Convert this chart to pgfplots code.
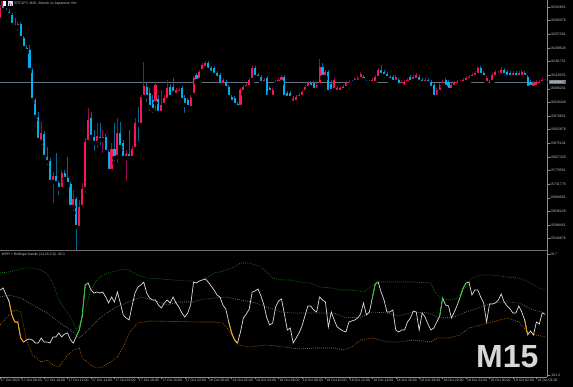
\documentclass[border=0pt]{standalone}
\usepackage{fontspec}
\setmainfont{Liberation Sans}
\usepackage{pgfplots}
\usepackage{pgfplotstable}
\pgfplotsset{compat=1.18}
\definecolor{upbody}{RGB}{255,20,90}
\definecolor{dnbody}{RGB}{0,175,240}
\definecolor{upwick}{RGB}{150,10,85}
\definecolor{dnwick}{RGB}{0,105,145}
\definecolor{axgray}{RGB}{140,140,140}
\definecolor{lblgray}{RGB}{195,195,195}
\definecolor{bandgreen}{RGB}{20,135,20}
\definecolor{bandgray}{RGB}{125,125,125}
\definecolor{bandorange}{RGB}{190,110,0}
\definecolor{wprwhite}{RGB}{220,220,220}
\definecolor{wprgreen}{RGB}{40,200,40}
\definecolor{wprorange}{RGB}{255,160,0}
\definecolor{priceline}{RGB}{100,115,130}
\newcommand\tl{\fontsize{3.5}{4}\selectfont}

\pgfplotstableread{
i O H L C
-7 16307.2 16359.8 16300.2 16349.3
-6 16359.8 16373.8 16335.3 16342.3
-5 16342.3 16349.3 16328.3 16335.3
-4 16335.3 16345.8 16317.8 16324.8
-3 16324.8 16331.8 16282.7 16289.7
-2 16289.7 16314.3 16268.7 16282.7
-1 16282.7 16300.2 16261.7 16293.2
0 16293.2 16300.2 16237.1 16244.2
1 16244.2 16251.2 16202.1 16209.1
2 16209.1 16219.6 16191.6 16198.6
3 16202.1 16219.6 16125.0 16132.0
4 16132.0 16139.0 16016.3 16026.8
5 16026.8 16033.9 15956.7 15967.3
6 15967.3 15984.8 15879.6 15886.6
7 15879.6 15949.7 15862.1 15911.2
8 15907.7 15918.2 15820.0 15827.0
9 15827.0 15862.1 15792.0 15809.5
10 15813.0 15823.5 15732.4 15739.4
11 15739.4 15774.5 15658.8 15760.4
12 15760.4 15841.1 15721.9 15735.9
13 15735.9 15742.9 15686.9 15714.9
14 15714.9 15781.5 15704.4 15771.0
15 15771.0 15781.5 15739.4 15749.9
16 15753.4 15827.0 15725.4 15732.4
17 15732.4 15739.4 15641.3 15651.8
18 15651.8 15711.4 15630.8 15679.9
19 15679.9 15686.9 15501.1 15581.7
20 15578.2 15676.3 15564.2 15651.8
21 15651.8 15735.9 15641.3 15714.9
22 15714.9 15893.6 15693.9 15879.6
23 15879.6 15998.8 15876.1 15956.7
24 15963.7 15984.8 15886.6 15897.2
25 15897.2 15921.7 15841.1 15876.1
26 15876.1 15946.2 15851.6 15900.7
27 15897.2 15946.2 15862.1 15886.6
28 15886.6 15921.7 15834.1 15897.2
29 15897.2 15907.7 15834.1 15844.6
30 15844.6 15851.6 15771.0 15778.0
31 15778.0 15876.1 15767.5 15855.1
32 15855.1 15946.2 15806.0 15823.5
33 15827.0 15963.7 15799.0 15911.2
34 15911.2 15949.7 15851.6 15862.1
35 15876.1 15886.6 15816.5 15823.5
36 15823.5 15851.6 15735.9 15837.6
37 15837.6 15921.7 15816.5 15823.5
38 15823.5 15865.6 15809.5 15855.1
39 15855.1 15963.7 15851.6 15946.2
40 15946.2 16002.3 15876.1 15939.2
41 15939.2 16044.4 15935.7 16037.4
42 16037.4 16160.0 16030.4 16075.9
43 16072.4 16086.4 16012.8 16037.4
44 16051.4 16068.9 15981.3 16002.3
45 16026.8 16044.4 15974.3 15991.8
46 16016.3 16089.9 15981.3 16079.4
47 16030.4 16044.4 15967.3 15981.3
48 15981.3 16061.9 15967.3 16009.3
49 16009.3 16044.4 15998.8 16033.9
50 16026.8 16096.9 16019.8 16068.9
51 16072.4 16082.9 16030.4 16037.4
52 16072.4 16103.9 16044.4 16051.4
53 16044.4 16068.9 16037.4 16061.9
54 16051.4 16068.9 16044.4 16061.9
55 16068.9 16075.9 16019.8 16026.8
56 16033.9 16044.4 15974.3 16009.3
57 16026.8 16033.9 15995.3 16002.3
58 15998.8 16044.4 15991.8 16037.4
59 16044.4 16110.9 16037.4 16103.9
60 16114.5 16121.5 16086.4 16093.4
61 16096.9 16132.0 16089.9 16125.0
62 16128.5 16156.5 16121.5 16149.5
63 16139.0 16163.5 16132.0 16156.5
64 16156.5 16163.5 16125.0 16132.0
65 16139.0 16146.0 16114.5 16121.5
66 16139.0 16146.0 16107.4 16114.5
67 16121.5 16128.5 16096.9 16103.9
68 16114.5 16121.5 16072.4 16079.4
69 16079.4 16103.9 16072.4 16096.9
70 16089.9 16096.9 16061.9 16068.9
71 16072.4 16079.4 16030.4 16037.4
72 16037.4 16044.4 16012.8 16019.8
73 16033.9 16040.9 15998.8 16009.3
74 16012.8 16019.8 15991.8 16002.3
75 16002.3 16068.9 15995.3 16061.9
76 16054.9 16079.4 16047.9 16072.4
77 16068.9 16086.4 16061.9 16079.4
78 16072.4 16103.9 16065.4 16096.9
79 16096.9 16149.5 16089.9 16139.0
80 16139.0 16146.0 16100.4 16107.4
81 16114.5 16121.5 16096.9 16103.9
82 16107.4 16114.5 16079.4 16086.4
83 16086.4 16103.9 16079.4 16096.9
84 16103.9 16110.9 16030.4 16037.4
85 16068.9 16075.9 16047.9 16054.9
86 16037.4 16068.9 16030.4 16061.9
87 16082.9 16096.9 16075.9 16089.9
88 16086.4 16103.9 16079.4 16096.9
89 16089.9 16114.5 16082.9 16107.4
90 16107.4 16114.5 16030.4 16037.4
91 16051.4 16058.4 16026.8 16033.9
92 16051.4 16058.4 16026.8 16033.9
93 16016.3 16040.9 16009.3 16033.9
94 16019.8 16044.4 16012.8 16037.4
95 16033.9 16051.4 16026.8 16044.4
96 16037.4 16061.9 16030.4 16054.9
97 16054.9 16079.4 16047.9 16072.4
98 16068.9 16093.4 16061.9 16086.4
99 16086.4 16093.4 16065.4 16072.4
100 16086.4 16093.4 16054.9 16061.9
101 16061.9 16086.4 16054.9 16079.4
102 16079.4 16170.5 16072.4 16142.5
103 16142.5 16156.5 16100.4 16107.4
104 16107.4 16132.0 16100.4 16125.0
105 16125.0 16132.0 16047.9 16054.9
106 16082.9 16096.9 16051.4 16058.4
107 16061.9 16103.9 16054.9 16096.9
108 16054.9 16075.9 16047.9 16068.9
109 16054.9 16075.9 16047.9 16068.9
110 16072.4 16079.4 16054.9 16061.9
111 16068.9 16093.4 16061.9 16086.4
112 16079.4 16096.9 16072.4 16089.9
113 16089.9 16096.9 16079.4 16086.4
114 16089.9 16107.4 16082.9 16100.4
115 16089.9 16110.9 16082.9 16103.9
116 16100.4 16125.0 16093.4 16118.0
117 16107.4 16114.5 16089.9 16096.9
118 16089.9 16096.9 16079.4 16086.4
119 16089.9 16096.9 16079.4 16086.4
120 16086.4 16103.9 16079.4 16096.9
121 16086.4 16114.5 16079.4 16107.4
122 16103.9 16139.0 16096.9 16132.0
123 16132.0 16149.5 16107.4 16114.5
124 16125.0 16132.0 16103.9 16111.0
125 16118.0 16125.0 16096.9 16103.9
126 16107.4 16114.5 16089.9 16096.9
127 16107.4 16114.5 16082.9 16089.9
128 16089.9 16114.5 16082.9 16107.4
129 16096.9 16103.9 16072.4 16079.4
130 16079.4 16096.9 16072.4 16089.9
131 16072.4 16096.9 16065.4 16089.9
132 16086.4 16103.9 16079.4 16096.9
133 16107.4 16114.5 16082.9 16089.9
134 16093.4 16114.5 16086.4 16107.4
135 16096.9 16121.5 16089.9 16114.5
136 16107.4 16114.5 16082.9 16089.9
137 16096.9 16103.9 16079.4 16086.4
138 16086.4 16103.9 16079.4 16096.9
139 16096.9 16103.9 16079.4 16086.4
140 16089.9 16096.9 16061.9 16068.9
141 16079.4 16086.4 16026.8 16037.4
142 16037.4 16068.9 16030.4 16061.9
143 16054.9 16086.4 16047.9 16079.4
144 16079.4 16096.9 16072.4 16089.9
145 16096.9 16103.9 16065.4 16072.4
146 16089.9 16096.9 16054.9 16061.9
147 16061.9 16086.4 16054.9 16079.4
148 16072.4 16093.4 16065.4 16086.4
149 16079.4 16096.9 16072.4 16089.9
150 16086.4 16096.9 16079.4 16089.9
151 16086.4 16103.9 16079.4 16096.9
152 16089.9 16110.9 16082.9 16103.9
153 16096.9 16114.5 16089.9 16107.4
154 16103.9 16121.5 16096.9 16114.5
155 16107.4 16128.5 16100.4 16121.5
156 16114.5 16146.0 16107.4 16139.0
157 16139.0 16146.0 16107.4 16114.5
158 16121.5 16128.5 16100.4 16107.4
159 16086.4 16110.9 16079.4 16103.9
160 16089.9 16096.9 16072.4 16079.4
161 16089.9 16121.5 16082.9 16114.5
162 16107.4 16132.0 16100.4 16125.0
163 16114.5 16128.5 16107.4 16121.5
164 16114.5 16142.5 16107.4 16132.0
165 16132.0 16139.0 16107.4 16114.5
166 16125.0 16132.0 16100.4 16107.4
167 16121.5 16128.5 16100.4 16107.4
168 16107.4 16128.5 16100.4 16121.5
169 16121.5 16128.5 16100.4 16107.4
170 16107.4 16128.5 16100.4 16121.5
171 16107.4 16132.0 16100.4 16125.0
172 16121.5 16128.5 16100.4 16107.4
173 16107.4 16114.5 16061.9 16068.9
174 16089.9 16096.9 16065.4 16072.4
175 16068.9 16093.4 16061.9 16086.4
176 16072.4 16096.9 16065.4 16089.9
177 16079.4 16096.9 16072.4 16089.9
178 16086.4 16103.9 16079.4 16096.9
179 16096.9 16100.4 16086.4 16089.9
}\ohlc

\pgfplotstableread{
i w
-7 -15.9
-6 -13.9
-5 -20.9
-4 -26.9
-3 -40.9
-2 -47.9
-1 -47.9
0 -63.9
1 -67.9
2 -65.9
3 -64.9
4 -65.9
5 -68.9
6 -68.9
7 -63.9
8 -67.9
9 -67.9
10 -68.9
11 -62.9
12 -62.9
13 -58.9
14 -62.9
15 -59.9
16 -58.9
17 -65.9
18 -68.9
19 -61.9
20 -55.9
21 -41.9
22 -10.9
23 -8.9
24 -15.9
25 -18.9
26 -17.9
27 -18.9
28 -17.9
29 -22.9
30 -28.9
31 -22.9
32 -27.9
33 -17.9
34 -28.9
35 -40.9
36 -43.9
37 -45.9
38 -31.9
39 -18.9
40 -12.9
41 -10.9
42 -7.9
43 -18.9
44 -23.9
45 -25.9
46 -25.9
47 -30.9
48 -33.9
49 -28.9
50 -25.9
51 -28.9
52 -22.9
53 -28.9
54 -32.9
55 -38.9
56 -42.9
57 -38.9
58 -30.9
59 -7.9
60 -8.9
61 -6.9
62 -5.9
63 -4.9
64 -7.9
65 -11.9
66 -15.9
67 -20.9
68 -22.9
69 -30.9
70 -34.9
71 -47.9
72 -58.9
73 -65.9
74 -68.9
75 -57.9
76 -43.9
77 -39.9
78 -34.9
79 -17.9
80 -16.9
81 -14.9
82 -21.9
83 -30.9
84 -43.9
85 -50.9
86 -48.9
87 -32.9
88 -26.9
89 -24.9
90 -39.9
91 -55.9
92 -53.9
93 -68.9
94 -63.9
95 -58.9
96 -51.9
97 -41.9
98 -31.9
99 -31.9
100 -35.9
101 -37.9
102 -22.9
103 -25.9
104 -27.9
105 -52.9
106 -37.9
107 -45.9
108 -52.9
109 -54.9
110 -56.9
111 -57.9
112 -47.9
113 -46.9
114 -45.9
115 -43.9
116 -39.9
117 -28.9
118 -40.9
119 -37.9
120 -23.9
121 -9.9
122 -7.9
123 -17.9
124 -25.9
125 -37.9
126 -37.9
127 -35.9
128 -55.9
129 -57.9
130 -55.9
131 -55.9
132 -47.9
133 -43.9
134 -36.9
135 -37.9
136 -55.9
137 -38.9
138 -42.9
139 -49.9
140 -55.9
141 -53.9
142 -47.9
143 -41.9
144 -23.9
145 -30.9
146 -31.9
147 -43.9
148 -37.9
149 -30.9
150 -22.9
151 -13.9
152 -8.9
153 -7.9
154 -20.9
155 -15.9
156 -15.9
157 -22.9
158 -28.9
159 -47.9
160 -29.9
161 -29.9
162 -28.9
163 -25.9
164 -19.9
165 -27.9
166 -31.9
167 -34.9
168 -38.9
169 -38.9
170 -31.9
171 -37.9
172 -45.9
173 -60.9
174 -56.9
175 -60.9
176 -47.9
177 -49.9
178 -38.9
179 -40.3
}\wpr

\pgfplotstableread{
i v
-7 1.1
-4 2.1
0 5.1
2 6.1
4 6.1
7 4.1
9 0.1
11 -8.9
13 -25.9
16 -38.9
18 -48.9
19 -55.9
20 -50.9
22 -35.9
24 -15.9
26 -5.9
28 -0.9
30 1.1
34 4.1
36 5.1
40 -0.9
43 -3.9
48 -4.9
52 -5.9
57 -6.9
61 -6.9
64 -2.9
66 1.1
68 2.1
70 4.1
73 7.1
75 11.1
78 11.1
82 7.1
84 2.1
86 -3.9
89 -5.9
92 -5.9
95 -7.9
99 -8.9
102 -12.9
106 -13.9
109 -15.9
113 -15.9
117 -17.9
119 -13.9
122 -7.9
125 -7.9
128 -7.9
134 -7.9
140 -8.9
141 -15.9
143 -23.9
146 -25.9
149 -23.9
152 -12.9
154 -3.9
157 -0.9
161 -0.9
166 -2.9
170 -3.9
174 -8.9
177 -13.9
179 -15.9
}\ub

\pgfplotstableread{
i v
-7 -22.9
-4 -20.9
0 -23.9
4 -30.9
9 -38.9
13 -47.9
17 -55.9
20 -63.9
23 -55.9
27 -43.9
32 -33.9
36 -28.9
41 -22.9
45 -25.9
50 -30.9
54 -27.9
59 -27.9
61 -25.9
66 -23.9
70 -22.9
75 -25.9
79 -27.9
84 -32.9
89 -37.9
93 -38.9
98 -38.9
102 -38.9
107 -38.9
111 -43.9
116 -42.9
120 -37.9
125 -38.9
129 -41.9
134 -37.9
139 -38.9
143 -43.9
148 -42.9
152 -37.9
157 -32.9
161 -28.9
166 -27.9
170 -28.9
175 -35.9
179 -38.9
}\mb

\pgfplotstableread{
i v
-7 -50.9
-4 -40.9
-2 -35.9
0 -37.9
2 -65.9
4 -80.9
7 -87.9
9 -85.9
11 -90.9
13 -92.9
16 -80.9
18 -75.9
20 -73.9
21 -83.9
24 -90.9
26 -93.9
28 -92.9
30 -88.9
33 -82.9
35 -72.9
37 -58.9
40 -48.9
44 -46.9
61 -47.9
66 -47.9
69 -48.9
71 -55.9
74 -70.9
78 -72.9
84 -70.9
90 -72.9
95 -74.9
101 -73.9
107 -73.9
110 -75.9
113 -72.9
116 -65.9
120 -63.9
125 -67.9
129 -67.9
134 -65.9
140 -67.9
142 -63.9
146 -63.9
150 -60.9
153 -53.9
157 -50.9
161 -47.9
166 -43.9
170 -47.9
173 -57.9
176 -60.9
179 -62.9
}\lb

\begin{document}
\begin{tikzpicture}
\fill[black] (0,0) rectangle (573pt,387pt);

% ---------- price panel ----------
\begin{axis}[
  at={(0pt,137.5pt)}, anchor=south west, scale only axis,
  width=547pt, height=249.5pt,
  xmin=-7.065, xmax=179.62, ymin=15502.8, ymax=16377.3,
  axis x line=none, axis y line*=right,
  xtick=\empty, scaled y ticks=false, scaled x ticks=false,
  axis line style={-, draw=axgray, line width=0.5pt},
  yticklabel pos=right,
  ytick={15540.676,15588.451,15636.226,15684.001,15731.776,15779.551,15827.326,15875.101,15922.876,15970.651,16018.426,16066.201,16113.976,16161.751,16209.526,16257.301,16305.076,16352.851},
  yticklabels={15540676,15588451,15636226,15684001,15731776,15779551,15827326,15875101,15922876,15970651,16018426,16066201,16113976,16161751,16209526,16257301,16305076,16352851},
  tick align=outside, major tick length=2.5pt,
  ytick style={draw=axgray, line width=0.4pt},
  yticklabel style={font=\tl, text=lblgray, anchor=west, inner sep=0pt, xshift=0.5pt},
]
\addplot[priceline, line width=0.5pt, forget plot] coordinates {(-8,16089.9) (181,16089.9)};
% wicks
\addplot[only marks, mark=none, forget plot,
  restrict expr to domain={\thisrow{C}-\thisrow{O}}{-1000:0},
  error bars/.cd, y dir=plus, y explicit, error mark=none,
  error bar style={draw=dnwick, line width=0.6pt}]
  table[x=i, y=L, y error expr=\thisrow{H}-\thisrow{L}] {\ohlc};
\addplot[only marks, mark=none, forget plot,
  restrict expr to domain={\thisrow{C}-\thisrow{O}}{0:1000},
  error bars/.cd, y dir=plus, y explicit, error mark=none,
  error bar style={draw=upwick, line width=0.6pt}]
  table[x=i, y=L, y error expr=\thisrow{H}-\thisrow{L}] {\ohlc};
% bodies
\addplot[only marks, mark=none, forget plot,
  restrict expr to domain={\thisrow{C}-\thisrow{O}}{-1000:0},
  error bars/.cd, y dir=plus, y explicit, error mark=none,
  error bar style={draw=dnbody, line width=2.1pt}]
  table[x=i, y=C, y error expr=\thisrow{O}-\thisrow{C}] {\ohlc};
\addplot[only marks, mark=none, forget plot,
  restrict expr to domain={\thisrow{C}-\thisrow{O}}{0:1000},
  error bars/.cd, y dir=plus, y explicit, error mark=none,
  error bar style={draw=upbody, line width=2.1pt}]
  table[x=i, y=O, y error expr=\thisrow{C}-\thisrow{O}] {\ohlc};
\end{axis}

% ---------- WPR panel ----------
\begin{axis}[
  at={(0pt,10pt)}, anchor=south west, scale only axis,
  width=547pt, height=125pt,
  xmin=-7.065, xmax=179.62, ymin=-102.9, ymax=22.1,
  axis x line*=bottom, axis y line*=right,
  scaled y ticks=false, scaled x ticks=false,
  axis line style={-, draw=axgray, line width=0.5pt},
  yticklabel pos=right,
  ytick={-101.3,19.7}, yticklabels={-101.3,19.7},
  xtick={-7.065,0,8,16,24,32,40,48,56,64,72,80,88,96,104,112,120,128,136,144,152,160,168,176},
  xticklabels={17 Oct 2025,17 Oct 08:00,17 Oct 10:00,17 Oct 12:00,17 Oct 14:00,17 Oct 16:00,17 Oct 18:00,17 Oct 20:00,17 Oct 22:00,18 Oct 00:00,18 Oct 02:00,18 Oct 04:00,18 Oct 06:00,18 Oct 08:00,18 Oct 10:00,18 Oct 12:00,18 Oct 14:00,18 Oct 16:00,18 Oct 18:00,18 Oct 20:00,18 Oct 22:00,19 Oct 00:00,19 Oct 02:00,19 Oct 04:00},
  tick align=outside, major tick length=2.5pt,
  tick style={draw=axgray, line width=0.4pt},
  yticklabel style={font=\tl, text=lblgray, anchor=west, inner sep=0pt, xshift=0.5pt},
  xticklabel style={font=\tl, text=lblgray, anchor=north west, inner sep=0pt, xshift=0.8pt, yshift=1pt},
]
\addplot[bandgreen, line width=0.6pt, dash pattern=on 0.8pt off 1.2pt] table[x=i,y=v] {\ub};
\addplot[bandgray, line width=0.6pt, dash pattern=on 0.8pt off 1.2pt] table[x=i,y=v] {\mb};
\addplot[bandorange, line width=0.6pt, dash pattern=on 0.8pt off 1.2pt] table[x=i,y=v] {\lb};
\addplot[wprwhite, line width=0.7pt] table[x=i,y=w] {\wpr};
\addplot[wprorange, line width=0.8pt, restrict x to domain=-4:1] table[x=i,y=w] {\wpr};
\addplot[wprgreen, line width=0.8pt, restrict x to domain=19:23] table[x=i,y=w] {\wpr};
\addplot[wprorange, line width=0.8pt, restrict x to domain=71:74] table[x=i,y=w] {\wpr};
\addplot[wprgreen, line width=0.8pt, restrict x to domain=120:122] table[x=i,y=w] {\wpr};
\addplot[wprgreen, line width=0.8pt, restrict x to domain=143:144] table[x=i,y=w] {\wpr};
\addplot[wprgreen, line width=0.8pt, restrict x to domain=150:152] table[x=i,y=w] {\wpr};
\addplot[wprorange, line width=0.8pt, restrict x to domain=172:173] table[x=i,y=w] {\wpr};
\end{axis}

% frame pieces and texts
\draw[axgray!80!black, line width=0.6pt] (0pt,136.3pt) -- (547pt,136.3pt);
\draw[axgray, line width=0.5pt] (547pt,134pt) -- (547pt,138pt);
\node[fill=priceline, text=white, font=\tl, inner sep=0.7pt, anchor=west] at (548.5pt,305pt) {16089897};
\fill[white] (0.5pt,380.5pt) rectangle (5.5pt,385.5pt);
\fill[red!85!black] (0.5pt,380.5pt) rectangle (3pt,385.5pt);
\fill[white!85!blue] (8pt,380.5pt) rectangle (12.5pt,385.5pt);
\fill[blue!60!cyan] (9pt,381pt) rectangle (10pt,384pt);
\fill[red!70] (11pt,381pt) rectangle (12pt,383pt);
\node[anchor=west, inner sep=0pt, text=lblgray, font=\tl] at (14.5pt,383pt) {BTCJPY, M15: Bitcoin vs Japanese Yen};
\node[anchor=west, inner sep=0pt, text=lblgray, font=\tl] at (1.5pt,132pt) {WPR + Bollinger bands (14,20,2.0) -40.3};
\node[anchor=base west, inner sep=0pt, text={rgb,255:red,215;green,215;blue,215}, font=\fontsize{32}{32}\selectfont\bfseries] at (476pt,19pt) {M15};

\pgfresetboundingbox
\useasboundingbox (0,0) rectangle (573pt,387pt);
\end{tikzpicture}
\end{document}
